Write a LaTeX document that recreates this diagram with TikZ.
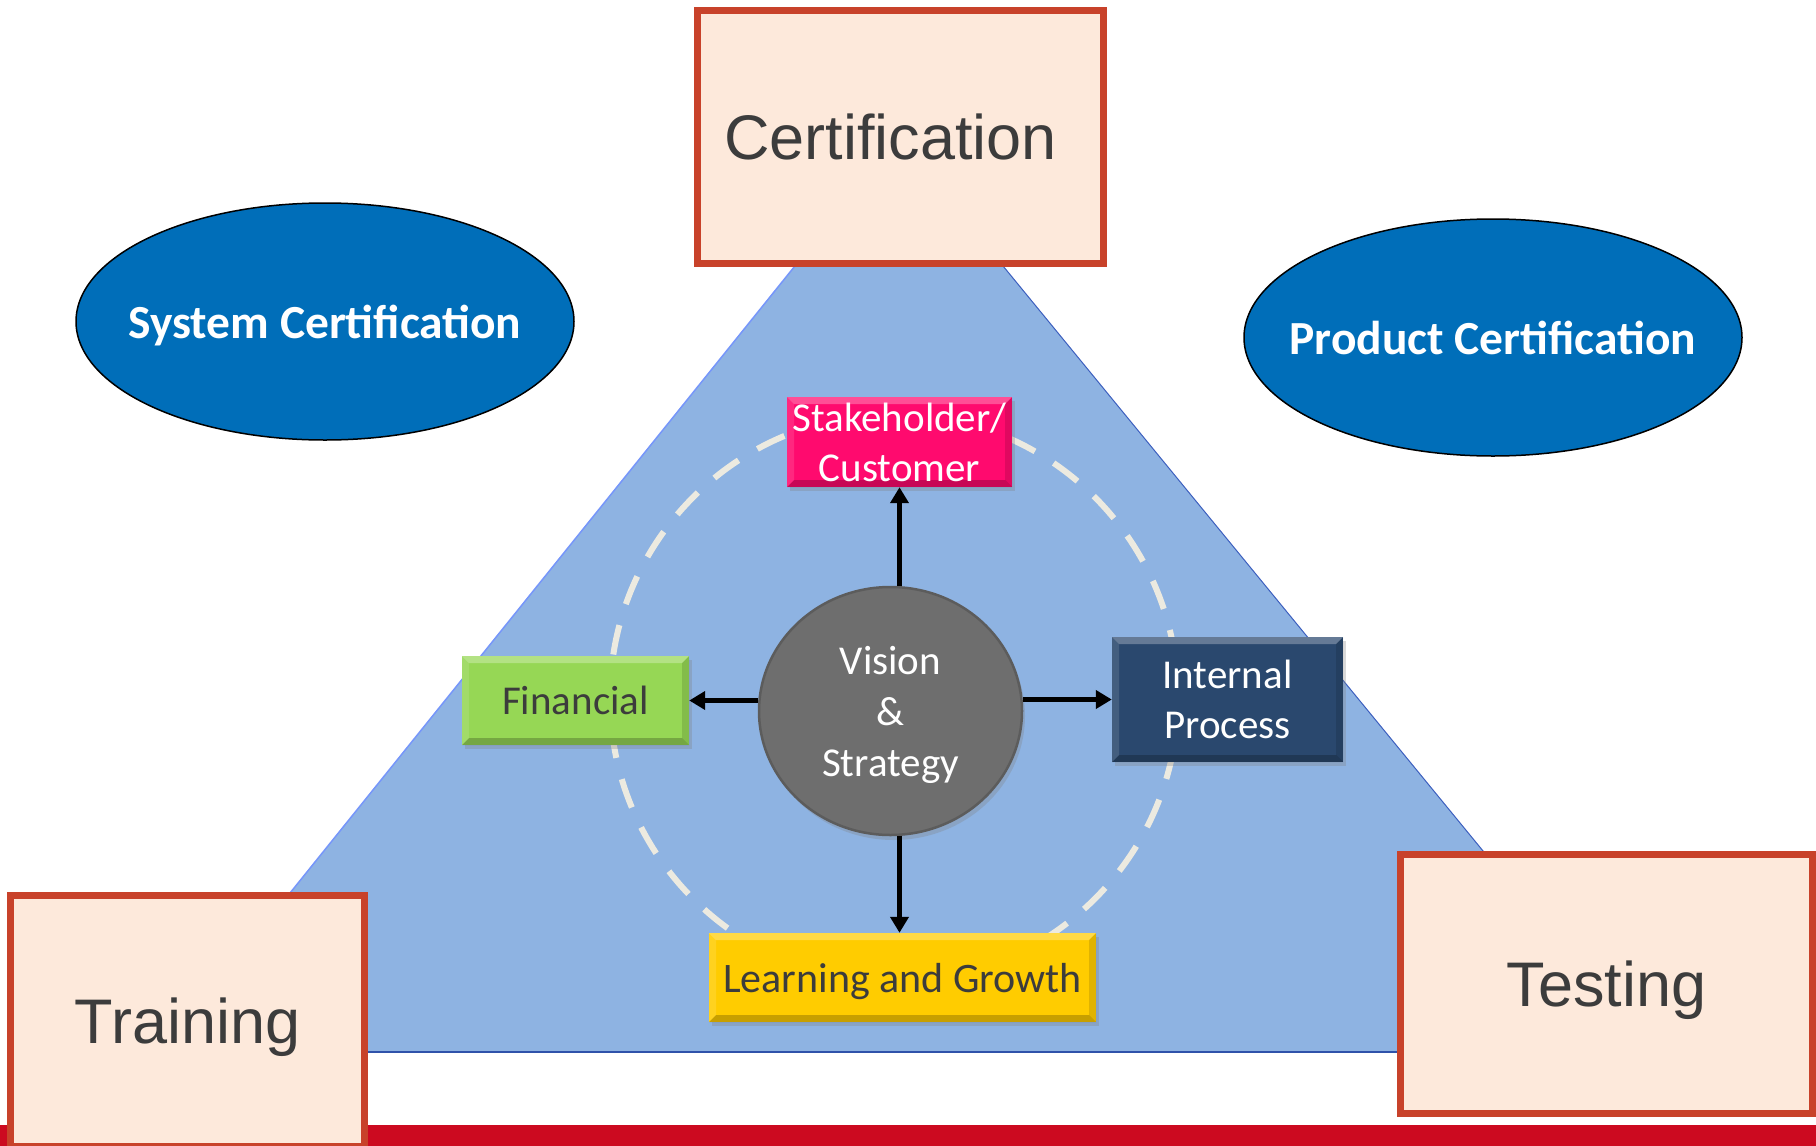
\documentclass[tikz,border=0pt]{standalone}
\usepackage{fontspec}
\setmainfont{Liberation Sans}
\newfontfamily\calfont{Carlito}
\usetikzlibrary{arrows.meta,shapes.geometric,shadows,calc}
\definecolor{trifill}{RGB}{142,179,226}
\definecolor{triedgeL}{RGB}{118,150,250}
\definecolor{triedgeR}{RGB}{60,95,190}
\definecolor{tribase}{RGB}{47,82,170}
\definecolor{peach}{RGB}{253,233,219}
\definecolor{rust}{RGB}{200,66,42}
\definecolor{ovalblue}{RGB}{0,110,185}
\definecolor{magenta}{RGB}{255,10,110}
\definecolor{leaf}{RGB}{150,215,85}
\definecolor{navy}{RGB}{42,72,110}
\definecolor{gold}{RGB}{255,204,0}
\definecolor{stone}{RGB}{110,110,110}
\definecolor{ringcol}{RGB}{236,234,224}
\definecolor{darktext}{RGB}{60,60,60}
\definecolor{barred}{RGB}{204,10,32}
\begin{document}
\begin{tikzpicture}[x=1pt,y=-1pt,
  bigbox/.style={draw=rust,line width=7pt,fill=peach,inner sep=0pt,
    text=darktext,font=\fontsize{63}{75}\selectfont,text depth=0pt},
  oval/.style={ellipse,draw=black,line width=1.5pt,fill=ovalblue,inner ysep=0pt,inner xsep=-120pt,
    minimum width=498pt,minimum height=237pt,text=white,
    font=\calfont\bfseries\fontsize{47.5}{57}\selectfont,text depth=0pt},
  bevel/.style={path picture={
    \coordinate (bnw) at (path picture bounding box.north west);
    \coordinate (bne) at (path picture bounding box.north east);
    \coordinate (bsw) at (path picture bounding box.south west);
    \coordinate (bse) at (path picture bounding box.south east);
    \fill[white,opacity=0.28] (bnw) -- (bne) -- ($(bne)+(-7,7)$) -- ($(bnw)+(7,7)$) -- cycle;
    \fill[black,opacity=0.22] (bsw) -- (bse) -- ($(bse)+(-7,-7)$) -- ($(bsw)+(7,-7)$) -- cycle;
    \fill[white,opacity=0.12] (bnw) -- (bsw) -- ($(bsw)+(7,-7)$) -- ($(bnw)+(7,7)$) -- cycle;
    \fill[black,opacity=0.12] (bne) -- (bse) -- ($(bse)+(-7,-7)$) -- ($(bne)+(-7,7)$) -- cycle;
  }},
  pbox/.style={rectangle,inner sep=0pt,align=center,bevel,
    drop shadow={opacity=0.3,shadow xshift=3pt,shadow yshift=-4pt},
    font=\calfont\fontsize{41}{50}\selectfont,text depth=0pt},
  arr/.style={line width=4.5pt,-{Triangle[length=16pt,width=18pt]}},
  dashring/.style={draw=ringcol,line width=6pt,dash pattern=on 30pt off 22pt}
]
\useasboundingbox (0,0) rectangle (1816,1146);
\clip (0,0) rectangle (1816,1146);

% triangle
\coordinate (apex) at (898,138);
\coordinate (tl) at (162,1052);
\coordinate (tr) at (1648,1052);
\fill[trifill] (apex) -- (tl) -- (tr) -- cycle;
\draw[triedgeL,line width=1.5pt] (apex) -- (tl);
\draw[triedgeR,line width=1pt] (apex) -- (tr);
\draw[tribase,line width=2.5pt] (tl) -- (tr);

% dashed ring
\draw[dashring] (894,698) circle[radius=284];

% inner nodes
\node[pbox,fill=magenta,text=white,minimum width=225pt,minimum height=90pt] (stake) at (899.5,442) {Stakeholder/\\Customer};
\node[pbox,fill=leaf,text=darktext,minimum width=227pt,minimum height=89pt] (fin) at (575.5,700.5) {Financial};
\node[pbox,fill=navy,text=white,minimum width=231pt,minimum height=125pt] (ip) at (1227.5,699.5) {Internal\\Process};
\node[pbox,fill=gold,text=darktext,minimum width=387pt,minimum height=89pt,font=\calfont\fontsize{42}{50}\selectfont] (learn) at (902.5,977.5) {Learning and Growth};
\node[ellipse,fill=stone,draw={rgb,255:red,92;green,92;blue,92},line width=2.5pt,inner sep=0pt,
  minimum width=263pt,minimum height=248pt,align=center,text=white,
  drop shadow={opacity=0.3,shadow xshift=3pt,shadow yshift=-5pt},
  font=\calfont\fontsize{41}{51}\selectfont,text depth=0pt] (vision) at (890.5,711) {Vision\\\&\\Strategy};

% connectors
\draw[arr] (vision.north -| stake.south) -- (stake.south);
\draw[arr] (vision.west |- fin.east) -- (fin.east);
\draw[arr] (vision.east |- ip.west) -- (ip.west);
\draw[arr] (vision.south -| stake.south) -- (stake.south |- learn.north);

% ovals
\node[oval] (sys) at (325,321.5) {System Certification};
\node[oval] (prod) at (1493,337.5) {Product Certification};

% bottom bar
\fill[barred] (0,1125) rectangle (1816,1146);

% big boxes
\node[bigbox,minimum width=406pt,minimum height=253pt] (cert) at (900.5,137) {\hspace*{-20pt}Certification};
\node[bigbox,minimum width=354pt,minimum height=251pt] (train) at (187.5,1021) {Training};
\node[bigbox,minimum width=412pt,minimum height=259pt] (test) at (1606.5,984) {Testing};
\end{tikzpicture}
\end{document}
